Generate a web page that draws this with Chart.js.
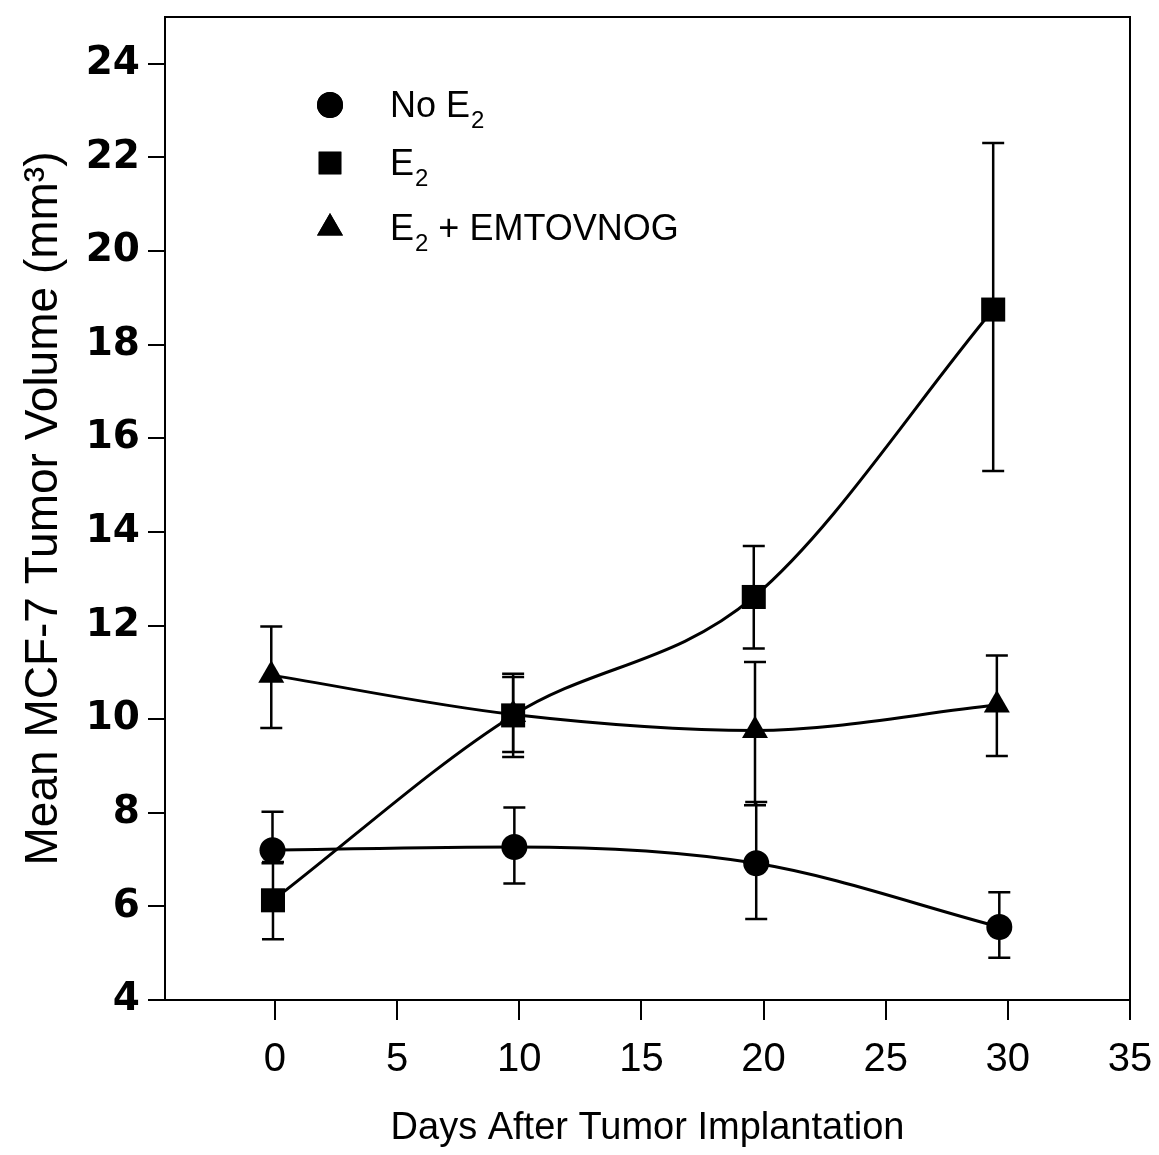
<!DOCTYPE html>
<html>
<head>
<meta charset="utf-8">
<script src="https://cdn.jsdelivr.net/npm/chart.js@4.4.0/dist/chart.umd.min.js"></script>
<style>
  html, body { margin: 0; padding: 0; background: #fff; }
  #wrap { width: 1159px; height: 1155px; }
</style>
</head>
<body>
<div id="wrap"><canvas id="myChart"></canvas></div>
<script>
// day positions (points sit a little left of the ticks)
const daysNoE2 = [-0.1, 9.8, 19.7, 29.65];
const noE2 = [7.2, 7.27, 6.92, 5.56];
const noE2Hi = [8.02, 8.11, 8.23, 6.30];
const noE2Lo = [6.92, 6.49, 5.73, 4.90];

const daysE2 = [-0.08, 9.75, 19.6, 29.4];
const e2 = [6.13, 10.08, 12.61, 18.75];
const e2Hi = [6.95, 10.97, 13.7, 22.31];
const e2Lo = [5.30, 9.19, 11.51, 15.3];

const daysEmt = [-0.15, 9.75, 19.65, 29.55];
const emt = [10.94, 10.1, 9.76, 10.30];
const emtHi = [11.98, 10.9, 11.22, 11.36];
const emtLo = [9.81, 9.30, 8.16, 9.21];

const xTicks = [0, 5, 10, 15, 20, 25, 30, 35];
const yTicks = [4, 6, 8, 10, 12, 14, 16, 18, 20, 22, 24];

const sans = "'Liberation Sans', Arial, sans-serif";

function pts(xs, ys) {
    return xs.map((x, i) => ({ x: x, y: ys[i] }));
}

function series(label, xs, ys, hi, lo, style, r) {
    return {
        label: label,
        data: pts(xs, ys),
        errHi: hi,
        errLo: lo,
        borderColor: '#000',
        backgroundColor: '#000',
        borderWidth: 3,
        pointStyle: style,
        pointRadius: r,
        pointBorderWidth: 0,
        pointHoverRadius: r,
        cubicInterpolationMode: 'monotone',
        fill: false
    };
}

// error bars drawn under the markers
const errorBars = {
    id: 'errorBars',
    beforeDatasetsDraw(chart) {
        const ctx = chart.ctx;
        const yScale = chart.scales.y;
        ctx.save();
        ctx.strokeStyle = '#000';
        ctx.lineWidth = 2.5;
        chart.data.datasets.forEach((ds, i) => {
            chart.getDatasetMeta(i).data.forEach((pt, j) => {
                const top = yScale.getPixelForValue(ds.errHi[j]);
                const bot = yScale.getPixelForValue(ds.errLo[j]);
                ctx.beginPath();
                ctx.moveTo(pt.x, top);
                ctx.lineTo(pt.x, bot);
                ctx.moveTo(pt.x - 11, top);
                ctx.lineTo(pt.x + 11, top);
                ctx.moveTo(pt.x - 11, bot);
                ctx.lineTo(pt.x + 11, bot);
                ctx.stroke();
            });
        });
        ctx.restore();
    }
};

// box round the plot and the hand-placed legend
const frameAndLegend = {
    id: 'frameAndLegend',
    afterDraw(chart) {
        const ctx = chart.ctx;
        const a = chart.chartArea;
        ctx.save();
        ctx.strokeStyle = '#000';
        ctx.lineWidth = 2;
        ctx.strokeRect(a.left, a.top, a.right - a.left, a.bottom - a.top);

        const items = [
            { style: 'circle', r: 13, pre: 'No E', post: '' },
            { style: 'rect', r: 16, pre: 'E', post: '' },
            { style: 'triangle', r: 15, pre: 'E', post: ' + EMTOVNOG' }
        ];
        const rows = [105, 163, 228];
        ctx.fillStyle = '#000';
        items.forEach((it, k) => {
            const y = rows[k];
            Chart.helpers.drawPoint(ctx, { pointStyle: it.style, radius: it.r, borderWidth: 0 }, a.left + 165, y);
            ctx.fill();
            ctx.textBaseline = 'middle';
            ctx.textAlign = 'left';
            ctx.font = '36px ' + sans;
            let x = a.left + 225;
            ctx.fillText(it.pre, x, y + 2);
            x += ctx.measureText(it.pre).width;
            ctx.font = '24px ' + sans;
            ctx.fillText('2', x + 1, y + 16);
            x += ctx.measureText('2').width + 1;
            if (it.post) {
                ctx.font = '36px ' + sans;
                ctx.fillText(it.post, x, y + 2);
            }
        });
        ctx.restore();
    }
};

const ctx = document.getElementById('myChart').getContext('2d');
const myChart = new Chart(ctx, {
    type: 'line',
    data: {
        datasets: [
            series('No E2', daysNoE2, noE2, noE2Hi, noE2Lo, 'circle', 13),
            series('E2', daysE2, e2, e2Hi, e2Lo, 'rect', 17),
            series('E2 + EMTOVNOG', daysEmt, emt, emtHi, emtLo, 'triangle', 15)
        ]
    },
    options: {
        responsive: true,
        maintainAspectRatio: false,
        animation: false,
        layout: { padding: { left: 0, top: 15, right: 29, bottom: 0 } },
        plugins: {
            legend: { display: false },
            tooltip: { enabled: false }
        },
        scales: {
            x: {
                type: 'linear',
                min: -4.5,
                max: 35,
                afterBuildTicks: (scale) => { scale.ticks = xTicks.map(v => ({ value: v })); },
                afterFit: (scale) => {
                    scale.height = 155;
                    scale.paddingLeft = 0;
                    scale.paddingRight = 0;
                },
                grid: { drawOnChartArea: false, drawTicks: true, tickLength: 20, color: '#000', lineWidth: 2 },
                border: { display: true, color: '#000', width: 2 },
                ticks: { color: '#000', padding: 16, maxRotation: 0, font: { family: sans, size: 40 } },
                title: {
                    display: true,
                    text: 'Days After Tumor Implantation',
                    color: '#000',
                    font: { family: sans, size: 38 },
                    padding: { top: 0, bottom: 4 }
                }
            },
            y: {
                min: 4,
                max: 25,
                afterBuildTicks: (scale) => { scale.ticks = yTicks.map(v => ({ value: v })); },
                afterFit: (scale) => {
                    scale.width = 165;
                    scale.paddingTop = 0;
                    scale.paddingBottom = 0;
                },
                grid: { drawOnChartArea: false, drawTicks: true, tickLength: 17, color: '#000', lineWidth: 2 },
                border: { display: true, color: '#000', width: 2 },
                ticks: { color: '#000', padding: 8, font: { family: "'DejaVu Sans', sans-serif", size: 39, weight: 'bold' } },
                title: {
                    display: true,
                    text: 'Mean MCF-7 Tumor Volume (mm³)',
                    color: '#000',
                    font: { family: sans, size: 46 },
                    padding: { top: 17, bottom: 0 }
                }
            }
        }
    },
    plugins: [errorBars, frameAndLegend]
});
</script>
</body>
</html>
